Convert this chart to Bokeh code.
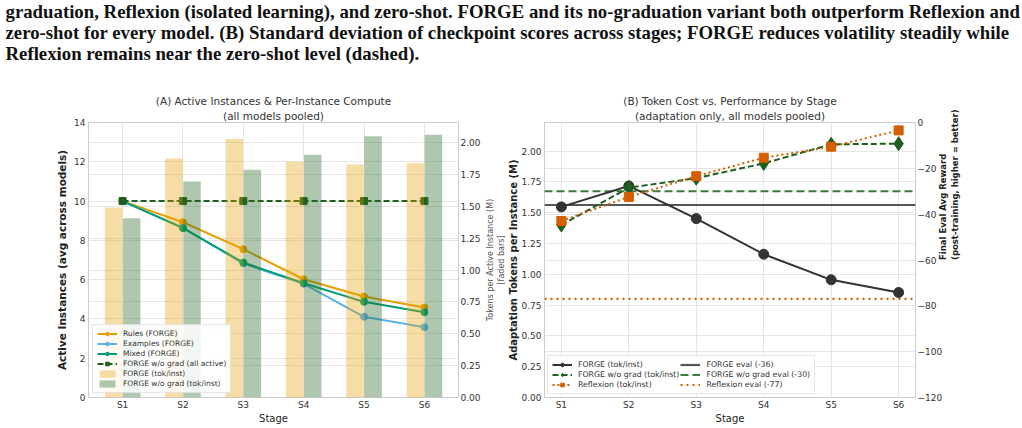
import math
from bokeh.plotting import figure
from bokeh.models import (Range1d, LinearAxis, FixedTicker, NumeralTickFormatter,
                          Legend, LegendItem, Title, Grid)
from bokeh.layouts import column, row
from bokeh.embed import file_html
from bokeh.resources import INLINE
from bokeh.core.properties import value

# ---------------- data ----------------
caption_lines = [
    "graduation, Reflexion (isolated learning), and zero-shot. FORGE and its no-graduation variant both outperform Reflexion and",
    "zero-shot for every model. (B) Standard deviation of checkpoint scores across stages; FORGE reduces volatility steadily while",
    "Reflexion remains near the zero-shot level (dashed).",
]
stages = ["S1", "S2", "S3", "S4", "S5", "S6"]
xi = [0, 1, 2, 3, 4, 5]

# Panel A
rules_active = [10.0, 8.92, 7.55, 6.02, 5.14, 4.58]
examples_active = [10.0, 8.64, 6.82, 5.79, 4.11, 3.58]
mixed_active = [10.0, 8.62, 6.87, 5.82, 4.87, 4.34]
nograd_active = [10.0, 10.0, 10.0, 10.0, 10.0, 10.0]
forge_tok_inst = [1.49, 1.875, 2.03, 1.849, 1.827, 1.838]
nograd_tok_inst = [1.406, 1.694, 1.786, 1.904, 2.05, 2.06]

# Panel B
forge_tok = [1.547, 1.717, 1.452, 1.163, 0.955, 0.852]
nograd_tok = [1.40, 1.703, 1.78, 1.90, 2.055, 2.06]
reflexion_tok = [1.433, 1.628, 1.796, 1.946, 2.036, 2.168]
eval_labels = ["FORGE eval (-36)", "FORGE w/o grad eval (-30)", "Reflexion eval (-77)"]
eval_values = [-36, -30, -77]

left_ticks_a = [0, 2, 4, 6, 8, 10, 12, 14]
right_ticks_a = [0.0, 0.25, 0.5, 0.75, 1.0, 1.25, 1.5, 1.75, 2.0]
left_ticks_b = [0.0, 0.25, 0.5, 0.75, 1.0, 1.25, 1.5, 1.75, 2.0]
right_ticks_b = [-120, -100, -80, -60, -40, -20, 0]

# ---------------- colours ----------------
C_RULES = "#E69F00"
C_EX = "#56B4E9"
C_MIX = "#009E73"
C_NOGRAD = "#1E5E1E"
C_BAR_NOGRAD = "#2E6B2E"
C_FORGE = "#333333"
C_REFL = "#D55E00"
C_NOGRAD_EVAL = "#3A7A3A"
C_FORGE_EVAL = "#555555"

FONT = "DejaVu Sans"
TXT = "#333333"


def style(p):
    p.outline_line_color = "#cccccc"
    p.background_fill_color = "white"
    p.border_fill_color = "white"
    for ax in p.axis:
        ax.axis_line_color = None
        ax.major_tick_line_color = None
        ax.minor_tick_line_color = None
        ax.major_tick_out = 0
        ax.major_tick_in = 0
        ax.major_label_text_font = FONT
        ax.major_label_text_font_size = "9px"
        ax.major_label_text_color = TXT
        ax.major_label_standoff = 3
        ax.axis_label_text_font = FONT
        ax.axis_label_text_font_size = "10.5px"
        ax.axis_label_text_color = "#222222"
        ax.axis_label_text_font_style = "normal"
        ax.axis_label_standoff = 3
    for ax in p.xaxis:
        ax.major_label_standoff = 2
        ax.axis_label_standoff = 0
        ax.axis_label_text_font_size = "10px"
    p.grid.grid_line_color = "#e6e6e6"
    p.grid.grid_line_width = 1


def flip_label(ax):
    # make a right-side axis label read bottom-to-top (as matplotlib does)
    try:
        ax.axis_label_orientation = math.pi / 2
    except Exception:
        pass


def titles(p, l1, l2):
    p.add_layout(Title(text=l2, align="center", text_font=FONT, text_font_size="10.5px",
                       text_font_style="normal", text_color=TXT, standoff=2), "above")
    p.add_layout(Title(text=l1, align="center", text_font=FONT, text_font_size="10.5px",
                       text_font_style="normal", text_color=TXT, standoff=0), "above")


def style_legend(lg, fs):
    lg.label_text_font = FONT
    lg.label_text_font_size = fs
    lg.label_text_color = TXT
    lg.glyph_width = 20
    lg.glyph_height = 9
    lg.label_height = 9
    lg.spacing = 1
    lg.padding = 4
    lg.margin = 4
    lg.label_standoff = 6
    lg.border_line_color = "#cccccc"
    lg.background_fill_alpha = 0.85


stage_over = {i: s for i, s in zip(xi, stages)}

# ---------------- caption ----------------
cap = figure(width=1022, height=66, x_range=Range1d(0, 1022), y_range=Range1d(66, 0),
             toolbar_location=None, output_backend="svg", min_border=0,
             x_axis_location=None, y_axis_location=None)
cap.grid.visible = False
cap.outline_line_color = None
cap.text(x=[5, 5, 5], y=[11, 32, 53], text=caption_lines, text_font=value("Liberation Serif"),
         text_font_size="18.8px", text_font_style="bold", text_color="#111111",
         text_baseline="middle", text_align="left")

# ---------------- panel A ----------------
W1 = 483
H = 362
XA = (-0.565, 5.565)
p1 = figure(width=W1, height=H, x_range=Range1d(*XA), y_range=Range1d(0, 14),
            toolbar_location=None, output_backend="svg",
            min_border_left=88, min_border_right=23, min_border_top=56, min_border_bottom=31)
p1.extra_y_ranges = {"tok": Range1d(0, 2.157)}
ax_r = LinearAxis(y_range_name="tok", ticker=FixedTicker(ticks=right_ticks_a),
                  formatter=NumeralTickFormatter(format="0.00"))
p1.add_layout(ax_r, "right")
p1.add_layout(Grid(dimension=1, ticker=FixedTicker(ticks=right_ticks_a), y_range_name="tok",
                   grid_line_color="#f0f0f0"))
p1.yaxis[0].ticker = FixedTicker(ticks=left_ticks_a)
p1.ygrid[0].ticker = FixedTicker(ticks=left_ticks_a)
p1.xaxis.ticker = FixedTicker(ticks=xi)
p1.xaxis.major_label_overrides = stage_over
p1.xgrid.ticker = FixedTicker(ticks=xi)
p1.xaxis.axis_label = "Stage"
p1.yaxis[0].axis_label = "Active Instances (avg across models)"
style(p1)
ax_r.major_label_standoff = 2
p1.yaxis[0].axis_label_text_font_style = "bold"
titles(p1, "(A) Active Instances & Per-Instance Compute", "(all models pooled)")

r_rules_l = p1.line(xi, rules_active, line_color=C_RULES, line_width=2)
r_rules_m = p1.scatter(xi, rules_active, marker="circle", size=7, color=C_RULES)
r_ex_l = p1.line(xi, examples_active, line_color=C_EX, line_width=2)
r_ex_m = p1.scatter(xi, examples_active, marker="circle", size=7, color=C_EX)
r_mix_l = p1.line(xi, mixed_active, line_color=C_MIX, line_width=2)
r_mix_m = p1.scatter(xi, mixed_active, marker="circle", size=7, color=C_MIX)
r_ng_l = p1.line(xi, nograd_active, line_color=C_NOGRAD, line_width=2, line_dash="6 3")
r_ng_m = p1.scatter(xi, nograd_active, marker="square", size=7, color=C_NOGRAD)

xa_forge = [x - 0.15 for x in xi]
xa_ng = [x + 0.15 for x in xi]
r_bar_f = p1.vbar(x=xa_forge, top=forge_tok_inst, width=0.29, y_range_name="tok",
                  fill_color=C_RULES, fill_alpha=0.35, line_color=None)
r_bar_n = p1.vbar(x=xa_ng, top=nograd_tok_inst, width=0.29, y_range_name="tok",
                  fill_color=C_BAR_NOGRAD, fill_alpha=0.38, line_color=None)

leg1 = Legend(items=[
    LegendItem(label="Rules (FORGE)", renderers=[r_rules_l, r_rules_m]),
    LegendItem(label="Examples (FORGE)", renderers=[r_ex_l, r_ex_m]),
    LegendItem(label="Mixed (FORGE)", renderers=[r_mix_l, r_mix_m]),
    LegendItem(label="FORGE w/o grad (all active)", renderers=[r_ng_l, r_ng_m]),
    LegendItem(label="FORGE (tok/inst)", renderers=[r_bar_f]),
    LegendItem(label="FORGE w/o grad (tok/inst)", renderers=[r_bar_n]),
], location="bottom_left")
style_legend(leg1, "7.5px")
p1.add_layout(leg1)

# ---------------- panel B ----------------
W2 = 1022 - W1
XB = (-0.25, 5.25)
p2 = figure(width=W2, height=H, x_range=Range1d(*XB), y_range=Range1d(0, 2.232),
            toolbar_location=None, output_backend="svg",
            min_border_left=59, min_border_right=107, min_border_top=56, min_border_bottom=31)
p2.extra_y_ranges = {"rew": Range1d(-120, 0)}
ax_r2 = LinearAxis(y_range_name="rew", ticker=FixedTicker(ticks=right_ticks_b),
                   major_label_overrides={t: str(t).replace("-", "\u2212") for t in right_ticks_b},
                   axis_label="Final Eval Avg Reward\n(post-training, higher = better)")
p2.add_layout(ax_r2, "right")
p2.add_layout(Grid(dimension=1, ticker=FixedTicker(ticks=right_ticks_b), y_range_name="rew",
                   grid_line_color="#f0f0f0"))
p2.yaxis[0].ticker = FixedTicker(ticks=left_ticks_b)
p2.yaxis[0].formatter = NumeralTickFormatter(format="0.00")
p2.ygrid[0].ticker = FixedTicker(ticks=left_ticks_b)
p2.xaxis.ticker = FixedTicker(ticks=xi)
p2.xaxis.major_label_overrides = stage_over
p2.xgrid.ticker = FixedTicker(ticks=xi)
p2.xaxis.axis_label = "Stage"
style(p2)
p2.yaxis[0].major_label_standoff = 3
ax_r2.major_label_standoff = 2
ax_r2.axis_label_standoff = 4
ax_r2.axis_label_text_font_style = "bold"
ax_r2.axis_label_text_font_size = "8.5px"
flip_label(ax_r2)
titles(p2, "(B) Token Cost vs. Performance by Stage", "(adaptation only, all models pooled)")

# left-side stack of panel B (innermost first): its own y-axis label, then the
# right-axis label of panel A, which sits in the gap between the two panels
p2.add_layout(Title(text="Adaptation Tokens per Instance (M)", align="center", text_font=FONT,
                    text_font_size="10px", text_font_style="bold", text_color="#222222",
                    standoff=0, offset=0), "left")
p2.add_layout(Title(text="[faded bars]", align="center", text_font=FONT,
                    text_font_size="8px", text_font_style="normal", text_color="#555555",
                    standoff=0, offset=0), "left")
p2.add_layout(Title(text="Tokens per Active Instance (M)", align="center", text_font=FONT,
                    text_font_size="8px", text_font_style="normal", text_color="#555555",
                    standoff=0, offset=0), "left")

xspan = [XB[0], XB[1]]
r_fe = p2.line(xspan, [eval_values[0]] * 2, y_range_name="rew", line_color=C_FORGE_EVAL,
               line_width=2.2)
r_ne = p2.line(xspan, [eval_values[1]] * 2, y_range_name="rew", line_color=C_NOGRAD_EVAL,
               line_width=2.2, line_dash="8 4")
r_re = p2.line(xspan, [eval_values[2]] * 2, y_range_name="rew", line_color=C_REFL,
               line_width=2.2, line_dash="2 4")

r_f_l = p2.line(xi, forge_tok, line_color=C_FORGE, line_width=2)
r_f_m = p2.scatter(xi, forge_tok, marker="circle", size=10, color=C_FORGE)
r_n_l = p2.line(xi, nograd_tok, line_color=C_NOGRAD, line_width=2, line_dash="6 3")
r_n_m = p2.scatter(xi, nograd_tok, marker="diamond", size=14, color=C_NOGRAD)
r_r_l = p2.line(xi, reflexion_tok, line_color=C_REFL, line_width=2, line_dash="2 3")
r_r_m = p2.scatter(xi, reflexion_tok, marker="square", size=9, color=C_REFL)

leg2 = Legend(items=[
    LegendItem(label="FORGE (tok/inst)", renderers=[r_f_l, r_f_m]),
    LegendItem(label="FORGE w/o grad (tok/inst)", renderers=[r_n_l, r_n_m]),
    LegendItem(label="Reflexion (tok/inst)", renderers=[r_r_l, r_r_m]),
    LegendItem(label=eval_labels[0], renderers=[r_fe]),
    LegendItem(label=eval_labels[1], renderers=[r_ne]),
    LegendItem(label=eval_labels[2], renderers=[r_re]),
], location="bottom_left", ncols=2)
style_legend(leg2, "7.8px")
leg2.margin = 3
p2.add_layout(leg2)

layout = column(cap, row(p1, p2))
open("out.html", "w").write(file_html(layout, INLINE))
